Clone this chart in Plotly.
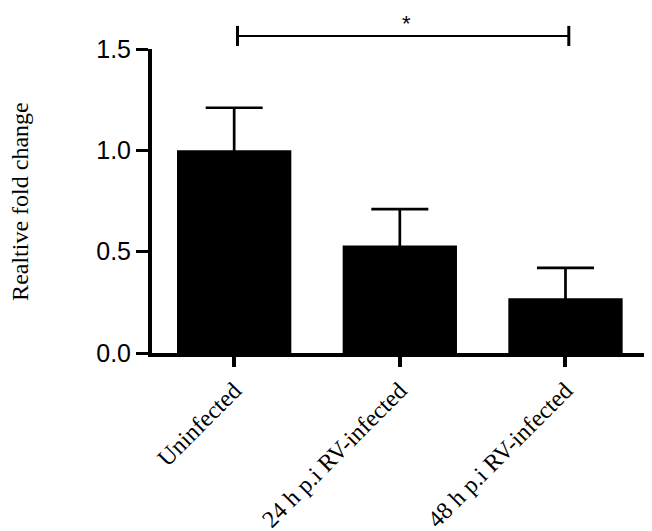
import plotly.graph_objects as go

groups = ["Uninfected", "24 h p.i RV-infected", "48 h p.i RV-infected"]
fold_change = [1.0, 0.53, 0.27]
sem = [0.21, 0.18, 0.15]

fig = go.Figure()
fig.add_trace(go.Bar(
    x=groups,
    y=fold_change,
    width=0.69,
    marker=dict(color="black", line=dict(width=0)),
    error_y=dict(type="data", array=sem, symmetric=True,
                 color="black", thickness=2.7, width=28.5),
))

# significance bracket between Uninfected and 48 h
bracket_y = 1.043
fig.add_shape(type="line", xref="x", yref="paper", x0=0.02, x1=2.02,
              y0=bracket_y, y1=bracket_y, line=dict(color="black", width=2))
for xe in (0.02, 2.02):
    fig.add_shape(type="line", xref="x", yref="paper", x0=xe, x1=xe,
                  y0=bracket_y - 0.033, y1=bracket_y + 0.033,
                  line=dict(color="black", width=3))
fig.add_annotation(x=1.04, xref="x", y=1.132, yref="paper", yanchor="top",
                   text="*", showarrow=False,
                   font=dict(family="Liberation Sans", size=22, color="black"))

fig.add_annotation(x=-0.268, xref="paper", y=0.50, yref="paper",
                   text="Realtive fold change", textangle=-90, showarrow=False,
                   xanchor="center", yanchor="middle",
                   font=dict(family="Liberation Serif", size=24, color="black"))

# page body adds an 8px offset, so the figure is sized to fit the window
fig.update_layout(
    width=644, height=523,
    margin=dict(l=144, r=7, t=41, b=178),
    plot_bgcolor="white", paper_bgcolor="white",
    showlegend=False,
    xaxis=dict(
        range=[-0.496, 2.48], automargin=False,
        showline=True, linecolor="black", linewidth=4,
        ticks="outside", ticklen=10, tickwidth=4, tickcolor="black",
        tickangle=-45, showgrid=False, zeroline=False,
        tickfont=dict(family="Liberation Serif", size=24, color="black"),
    ),
    yaxis=dict(
        range=[0, 1.5], automargin=False,
        tickvals=[0, 0.5, 1.0, 1.5], ticktext=["0.0", "0.5", "1.0", "1.5"],
        showline=True, linecolor="black", linewidth=4,
        ticks="outside", ticklen=12, tickwidth=3, tickcolor="black",
        showgrid=False, zeroline=False,
        tickfont=dict(family="Liberation Sans", size=25, color="black"),
    ),
)

fig.write_html("out.html")
